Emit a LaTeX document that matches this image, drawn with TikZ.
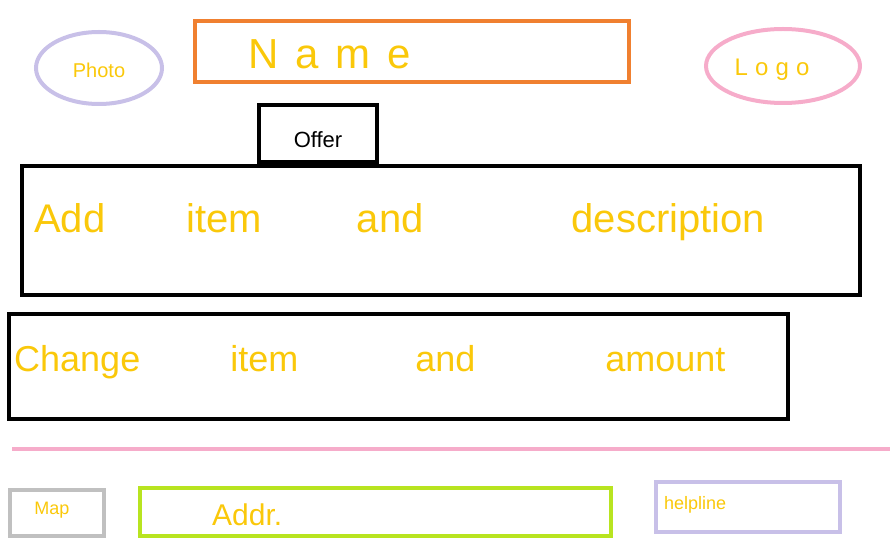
\documentclass[tikz,border=0pt]{standalone}
\usepackage{fontspec}
\setmainfont{Liberation Sans}
\definecolor{lav}{RGB}{200,192,232}
\definecolor{orng}{RGB}{240,128,48}
\definecolor{pnk}{RGB}{246,172,202}
\definecolor{gry}{RGB}{192,192,192}
\definecolor{grn}{RGB}{184,228,32}
\definecolor{ylw}{RGB}{250,200,10}
\begin{document}
\begin{tikzpicture}[x=1pt,y=-1pt,
  box/.style={draw,line width=4pt,inner sep=0pt},
  txt/.style={text=ylw,inner sep=0pt}]
\useasboundingbox (0,0) rectangle (891,553);
% top row
\draw[lav,line width=4pt] (99,68) ellipse [x radius=63,y radius=36];
\node[txt,font=\fontsize{20}{22}\selectfont] (photo) at (99,70) {Photo};
\draw[orng,line width=4pt] (195,21) rectangle (629,82);
\node[txt,anchor=west,font=\fontsize{42}{44}\selectfont\addfontfeature{LetterSpace=40}] (name) at (248,54) {Name};
\draw[pnk,line width=4pt] (783,66) ellipse [x radius=77,y radius=37];
\node[txt,font=\fontsize{24}{26}\selectfont\addfontfeature{LetterSpace=30}] (logo) at (772,70) {Logo};
% offer
\draw[box] (259,105) rectangle (377,162);
\node[inner sep=0pt,font=\fontsize{22}{24}\selectfont] (offer) at (318,140) {Offer};
% big boxes
\draw[box] (22,166) rectangle (860,295);
\node[txt,anchor=west,font=\fontsize{40}{44}\selectfont] (add) at (34,222) {Add\hspace{81pt}item\hspace{95pt}and\hspace{148pt}description};
\draw[box] (9,314) rectangle (788,419);
\node[txt,anchor=west,font=\fontsize{36}{40}\selectfont] (chg) at (14,362) {Change\hspace{90pt}item\hspace{117pt}and\hspace{130pt}amount};
% separator
\draw[pnk,line width=4pt] (12,449) -- (890,449);
% bottom row
\draw[gry,line width=4pt] (10,490) rectangle (104,536);
\node[txt,font=\fontsize{18}{20}\selectfont] (map) at (52,510) {Map};
\draw[grn,line width=4pt] (140,488) rectangle (611,536);
\node[txt,anchor=west,font=\fontsize{30}{32}\selectfont] (addr) at (212,515) {Addr.};
\draw[lav,line width=4pt] (656,482) rectangle (840,532);
\node[txt,anchor=west,font=\fontsize{18}{20}\selectfont] (help) at (664,505) {helpline};
\end{tikzpicture}
\end{document}
